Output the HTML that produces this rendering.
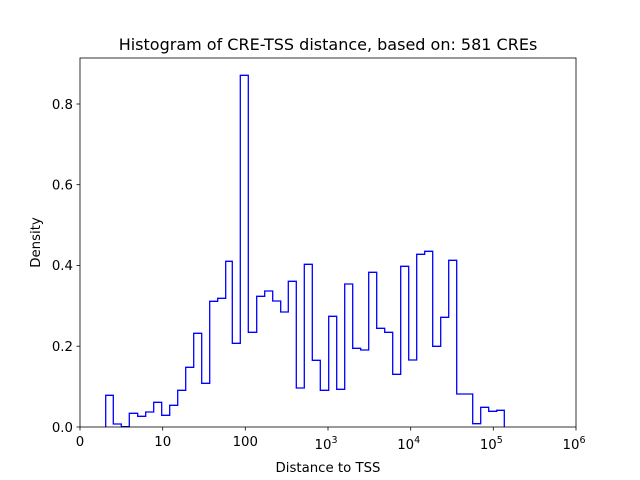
<!DOCTYPE html>
<html><head><meta charset="utf-8"><style>body{margin:0;background:#fff}svg{display:block}text{font-family:"DejaVu Sans","Liberation Sans",sans-serif;fill:#000}</style></head><body>
<svg width="640" height="480" viewBox="0 0 640 480" xmlns="http://www.w3.org/2000/svg">
<rect width="640" height="480" fill="#fff"/>
<polyline fill="none" stroke="#0000ff" stroke-width="1.3" stroke-linejoin="miter" points="
105.7,427 105.7,395.3 113.3,395.3 113.3,424 121.3,424 121.3,426.7 129.3,426.7 129.3,413.3 137.7,413.3 137.7,416.3 145.7,416.3 145.7,412 153.7,412 153.7,402.3 161.7,402.3 161.7,415.3 169.7,415.3 169.7,405.3 177.7,405.3 177.7,390.3 185.7,390.3 185.7,367.3 193.7,367.3 193.7,333.3 201.7,333.3 201.7,383.3 209.7,383.3 209.7,301.3 217.7,301.3 217.7,298.3 225.7,298.3 225.7,261.3 232.3,261.3 232.3,343.3 240.3,343.3 240.3,75.3 248.3,75.3 248.3,332.3 256.7,332.3 256.7,296.3 264.7,296.3 264.7,291 272.7,291 272.7,301 280.7,301 280.7,312 288.3,312 288.3,281.3 296.3,281.3 296.3,388 304.3,388 304.3,264.3 312.3,264.3 312.3,360.3 320.3,360.3 320.3,390.3 328.7,390.3 328.7,316.3 336.7,316.3 336.7,389.3 344.7,389.3 344.7,284 352.7,284 352.7,348.3 360.7,348.3 360.7,350 368.7,350 368.7,272.3 376.7,272.3 376.7,328.3 384.7,328.3 384.7,332.3 392.7,332.3 392.7,374.3 400.7,374.3 400.7,266.3 408.7,266.3 408.7,360 416.7,360 416.7,254.3 424.7,254.3 424.7,251.3 432.7,251.3 432.7,346.3 440.7,346.3 440.7,317.3 448.7,317.3 448.7,260.3 456.7,260.3 456.7,394 472.7,394 472.7,423.7 480.7,423.7 480.7,407.3 488.7,407.3 488.7,411.3 496.7,411.3 496.7,410.3 504.3,410.3 504.3,427"/>
<rect x="80" y="58" width="496" height="369" fill="none" stroke="#000" stroke-width="0.8"/>
<g stroke="#000" stroke-width="0.8">
<line x1="80" y1="427" x2="80" y2="430.5"/><line x1="162.7" y1="427" x2="162.7" y2="430.5"/><line x1="245.3" y1="427" x2="245.3" y2="430.5"/><line x1="328" y1="427" x2="328" y2="430.5"/><line x1="410.7" y1="427" x2="410.7" y2="430.5"/><line x1="493.3" y1="427" x2="493.3" y2="430.5"/><line x1="576" y1="427" x2="576" y2="430.5"/>
<line x1="76.5" y1="427" x2="80" y2="427"/><line x1="76.5" y1="346.2" x2="80" y2="346.2"/><line x1="76.5" y1="265.5" x2="80" y2="265.5"/><line x1="76.5" y1="184.7" x2="80" y2="184.7"/><line x1="76.5" y1="104" x2="80" y2="104"/>
</g>
<g font-size="13.3" text-anchor="middle">
<text x="80" y="446">0</text><text x="162.7" y="446">10</text><text x="245.3" y="446">100</text>
<text x="326" y="449">10<tspan font-size="9.5" dy="-6">3</tspan></text>
<text x="408.7" y="449">10<tspan font-size="9.5" dy="-6">4</tspan></text>
<text x="491.3" y="449">10<tspan font-size="9.5" dy="-6">5</tspan></text>
<text x="574" y="449">10<tspan font-size="9.5" dy="-6">6</tspan></text>
</g>
<g font-size="13.3" text-anchor="end">
<text x="73" y="432">0.0</text><text x="73" y="351">0.2</text><text x="73" y="270">0.4</text><text x="73" y="189.5">0.6</text><text x="73" y="109">0.8</text>
</g>
<text x="328" y="472" font-size="13.3" text-anchor="middle">Distance to TSS</text>
<text transform="translate(40,242.5) rotate(-90)" font-size="13.3" text-anchor="middle">Density</text>
<text x="328" y="50" font-size="16" text-anchor="middle">Histogram of CRE-TSS distance, based on: 581 CREs</text>
</svg>
</body></html>
